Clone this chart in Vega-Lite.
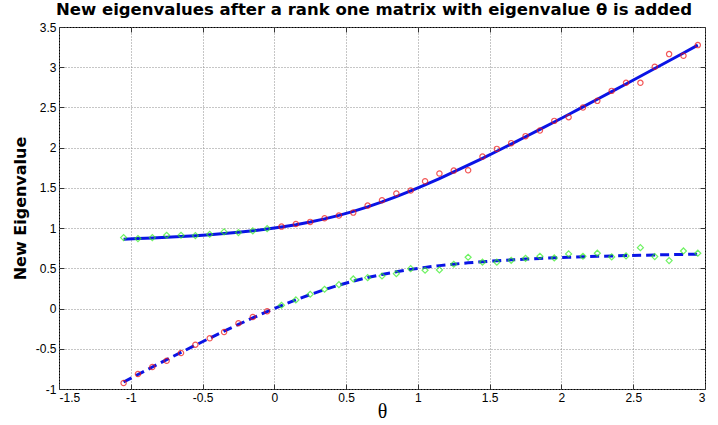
{
  "$schema": "https://vega.github.io/schema/vega-lite/v6.json",
  "width": 646,
  "height": 362,
  "autosize": {"type": "none"},
  "padding": {"left": 59, "top": 27, "right": 13, "bottom": 36},
  "background": "white",
  "title": {"text": "New eigenvalues after a rank one matrix with eigenvalue θ is added", "font": "DejaVu Sans", "fontSize": 16.5, "fontWeight": "bold", "color": "black", "anchor": "middle", "offset": 3, "dx": -8},
  "config": {
    "view": {"stroke": "black", "strokeWidth": 1},
    "axis": {
      "domain": false,
      "grid": true,
      "gridColor": "#8c8c8c",
      "gridDash": [1, 2],
      "gridOpacity": 1,
      "gridWidth": 1,
      "ticks": true,
      "tickColor": "#333",
      "tickSize": -5,
      "labelFont": "Liberation Sans",
      "labelFontSize": 12,
      "labelColor": "black",
      "labelPadding": 8,
      "labelExpr": "'' + datum.value"
    }
  },
  "datasets": {
    "curves": [
      {"theta": -1.05, "upper": 0.8628, "lower": -0.9128},
      {"theta": -0.95, "upper": 0.8695, "lower": -0.8195},
      {"theta": -0.85, "upper": 0.8770, "lower": -0.7270},
      {"theta": -0.75, "upper": 0.8853, "lower": -0.6353},
      {"theta": -0.65, "upper": 0.8948, "lower": -0.5448},
      {"theta": -0.55, "upper": 0.9055, "lower": -0.4555},
      {"theta": -0.45, "upper": 0.9178, "lower": -0.3678},
      {"theta": -0.35, "upper": 0.9317, "lower": -0.2817},
      {"theta": -0.25, "upper": 0.9478, "lower": -0.1978},
      {"theta": -0.15, "upper": 0.9664, "lower": -0.1164},
      {"theta": -0.05, "upper": 0.9880, "lower": -0.0380},
      {"theta": 0.05, "upper": 1.0130, "lower": 0.0370},
      {"theta": 0.15, "upper": 1.0420, "lower": 0.1080},
      {"theta": 0.25, "upper": 1.0757, "lower": 0.1743},
      {"theta": 0.35, "upper": 1.1145, "lower": 0.2355},
      {"theta": 0.45, "upper": 1.1587, "lower": 0.2913},
      {"theta": 0.55, "upper": 1.2087, "lower": 0.3413},
      {"theta": 0.65, "upper": 1.2645, "lower": 0.3855},
      {"theta": 0.75, "upper": 1.3257, "lower": 0.4243},
      {"theta": 0.85, "upper": 1.3920, "lower": 0.4580},
      {"theta": 0.95, "upper": 1.4630, "lower": 0.4870},
      {"theta": 1.05, "upper": 1.5380, "lower": 0.5120},
      {"theta": 1.15, "upper": 1.6164, "lower": 0.5336},
      {"theta": 1.25, "upper": 1.6978, "lower": 0.5522},
      {"theta": 1.35, "upper": 1.7818, "lower": 0.5683},
      {"theta": 1.45, "upper": 1.8678, "lower": 0.5823},
      {"theta": 1.55, "upper": 1.9555, "lower": 0.5945},
      {"theta": 1.65, "upper": 2.0448, "lower": 0.6052},
      {"theta": 1.75, "upper": 2.1353, "lower": 0.6147},
      {"theta": 1.85, "upper": 2.2270, "lower": 0.6230},
      {"theta": 1.95, "upper": 2.3195, "lower": 0.6305},
      {"theta": 2.05, "upper": 2.4128, "lower": 0.6372},
      {"theta": 2.15, "upper": 2.5067, "lower": 0.6433},
      {"theta": 2.25, "upper": 2.6013, "lower": 0.6487},
      {"theta": 2.35, "upper": 2.6963, "lower": 0.6537},
      {"theta": 2.45, "upper": 2.7918, "lower": 0.6582},
      {"theta": 2.55, "upper": 2.8877, "lower": 0.6623},
      {"theta": 2.65, "upper": 2.9839, "lower": 0.6661},
      {"theta": 2.75, "upper": 3.0805, "lower": 0.6695},
      {"theta": 2.85, "upper": 3.1773, "lower": 0.6727},
      {"theta": 2.95, "upper": 3.2743, "lower": 0.6757}
    ],
    "samples": [
      {"theta": -1.05, "red": -0.925, "green": 0.882},
      {"theta": -0.95, "red": -0.813, "green": 0.870},
      {"theta": -0.85, "red": -0.726, "green": 0.882},
      {"theta": -0.75, "red": -0.648, "green": 0.911},
      {"theta": -0.65, "red": -0.552, "green": 0.911},
      {"theta": -0.55, "red": -0.449, "green": 0.907},
      {"theta": -0.45, "red": -0.370, "green": 0.924},
      {"theta": -0.35, "red": -0.291, "green": 0.953},
      {"theta": -0.25, "red": -0.183, "green": 0.944},
      {"theta": -0.15, "red": -0.104, "green": 0.965},
      {"theta": -0.05, "red": -0.034, "green": 0.994},
      {"theta": 0.05, "red": 1.019, "green": 0.041},
      {"theta": 0.15, "red": 1.052, "green": 0.107},
      {"theta": 0.25, "red": 1.077, "green": 0.178},
      {"theta": 0.35, "red": 1.123, "green": 0.240},
      {"theta": 0.45, "red": 1.156, "green": 0.297},
      {"theta": 0.55, "red": 1.193, "green": 0.368},
      {"theta": 0.65, "red": 1.280, "green": 0.384},
      {"theta": 0.75, "red": 1.347, "green": 0.405},
      {"theta": 0.85, "red": 1.430, "green": 0.434},
      {"theta": 0.95, "red": 1.467, "green": 0.496},
      {"theta": 1.05, "red": 1.583, "green": 0.476},
      {"theta": 1.15, "red": 1.678, "green": 0.480},
      {"theta": 1.25, "red": 1.715, "green": 0.551},
      {"theta": 1.35, "red": 1.720, "green": 0.638},
      {"theta": 1.45, "red": 1.889, "green": 0.576},
      {"theta": 1.55, "red": 1.985, "green": 0.576},
      {"theta": 1.65, "red": 2.056, "green": 0.600},
      {"theta": 1.75, "red": 2.143, "green": 0.625},
      {"theta": 1.85, "red": 2.213, "green": 0.650},
      {"theta": 1.95, "red": 2.333, "green": 0.629},
      {"theta": 2.05, "red": 2.379, "green": 0.679},
      {"theta": 2.15, "red": 2.499, "green": 0.650},
      {"theta": 2.25, "red": 2.582, "green": 0.688},
      {"theta": 2.35, "red": 2.706, "green": 0.642},
      {"theta": 2.45, "red": 2.806, "green": 0.654},
      {"theta": 2.55, "red": 2.806, "green": 0.757},
      {"theta": 2.65, "red": 3.005, "green": 0.646},
      {"theta": 2.75, "red": 3.163, "green": 0.596},
      {"theta": 2.85, "red": 3.142, "green": 0.716},
      {"theta": 2.95, "red": 3.275, "green": 0.688}
    ]
  },
  "resolve": {"axis": {"x": "independent", "y": "independent"}},
  "layer": [
    {
      "data": {"name": "curves"},
      "mark": {"type": "line", "color": "#0a14e6", "strokeWidth": 3},
      "encoding": {
        "x": {"field": "theta", "type": "quantitative", "scale": {"domain": [-1.5, 3], "nice": false, "zero": false},
              "axis": {"orient": "bottom", "values": [-1.5, -1, -0.5, 0, 0.5, 1, 1.5, 2, 2.5, 3], "title": "θ", "titleFont": "Liberation Serif", "titleFontSize": 20, "titleFontWeight": "normal", "titleColor": "black", "titleX": 323, "titleY": 22, "titleBaseline": "middle"}},
        "y": {"field": "upper", "type": "quantitative", "scale": {"domain": [-1, 3.5], "nice": false, "zero": false},
              "axis": {"orient": "left", "values": [-1, -0.5, 0, 0.5, 1, 1.5, 2, 2.5, 3, 3.5], "title": "New Eigenvalue", "titleFont": "DejaVu Sans", "titleFontSize": 16, "titleFontWeight": "bold", "titleColor": "black", "titleX": -39, "titleY": 181, "titleBaseline": "middle", "titleAngle": -90}}
      }
    },
    {
      "data": {"name": "curves"},
      "mark": {"type": "line", "color": "#0a14e6", "strokeWidth": 3, "strokeDash": [9, 5]},
      "encoding": {
        "x": {"field": "theta", "type": "quantitative", "axis": {"orient": "top", "values": [-1.5, -1, -0.5, 0, 0.5, 1, 1.5, 2, 2.5, 3], "labels": false, "grid": false, "title": null}},
        "y": {"field": "lower", "type": "quantitative", "axis": {"orient": "right", "values": [-1, -0.5, 0, 0.5, 1, 1.5, 2, 2.5, 3, 3.5], "labels": false, "grid": false, "title": null}}
      }
    },
    {
      "data": {"name": "samples"},
      "mark": {"type": "point", "shape": "circle", "filled": false, "color": "#ee1111", "size": 28, "strokeWidth": 1.2},
      "encoding": {
        "x": {"field": "theta", "type": "quantitative", "axis": null},
        "y": {"field": "red", "type": "quantitative", "axis": null}
      }
    },
    {
      "data": {"name": "samples"},
      "mark": {"type": "point", "shape": "diamond", "filled": false, "color": "#33ee22", "size": 36, "strokeWidth": 1.2},
      "encoding": {
        "x": {"field": "theta", "type": "quantitative", "axis": null},
        "y": {"field": "green", "type": "quantitative", "axis": null}
      }
    }
  ]
}
